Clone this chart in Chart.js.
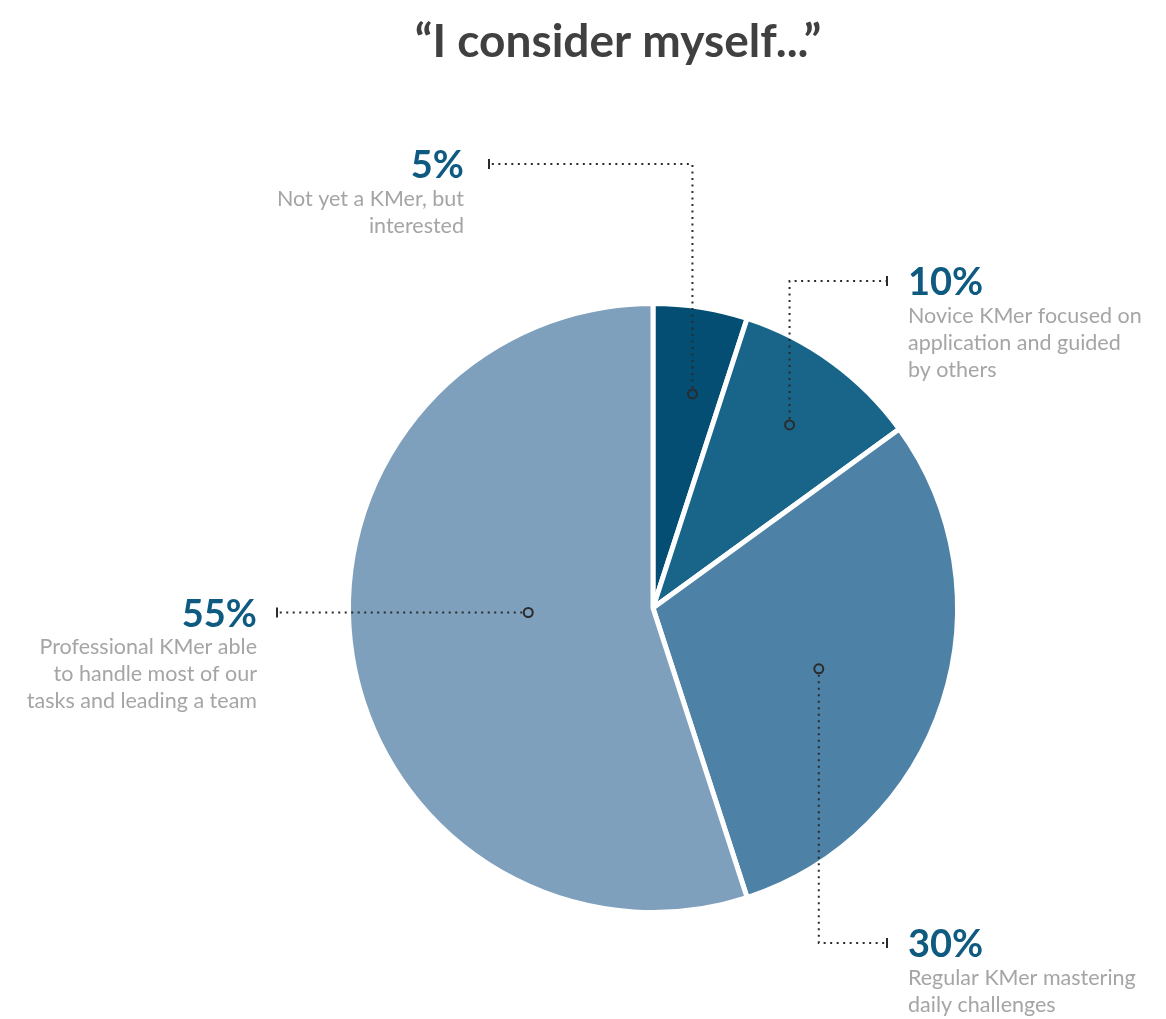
<!DOCTYPE html>
<html>
<head>
<meta charset="utf-8">
<script src="https://cdn.jsdelivr.net/npm/chart.js@4.4.1/dist/chart.umd.min.js"></script>
<style>
  html, body { margin: 0; padding: 0; background: #ffffff; }
  #wrap { width: 1166px; height: 1019px; position: relative; }
</style>
</head>
<body>
<div id="wrap"><canvas id="pie"></canvas></div>
<script>
// survey answers, clockwise from 12 o'clock
const chartTitle = "\u201CI consider myself...\u201D";
const shares = [5, 10, 30, 55];
const descriptions = [
  ["Not yet a KMer, but", "interested"],
  ["Novice KMer focused on", "application and guided", "by others"],
  ["Regular KMer mastering", "daily challenges"],
  ["Professional KMer able", "to handle most of our", "tasks and leading a team"]
];
const sliceColors = ["#034e72", "#186589", "#4d81a5", "#7fa0bd"];

// callout layout: where the marker sits inside the slice, where the leader bends/ends
const callouts = [
  { t: 0.58, rf: 0.715, elbowY: 164, endX: 489, side: "left", gap: 25 },
  { t: 0.52, rf: 0.75, elbowY: 281, endX: 887, side: "right", gap: 21 },
  { t: 0.52, rf: 0.58, elbowY: 943, endX: 887, side: "right", gap: 21 },
  { t: 0.535, rf: 0.41, elbowY: null, endX: 277, side: "left", gap: 20 }
];

const FONT = "Lato, 'Open Sans', sans-serif";

const titlePlugin = {
  id: "bigTitle",
  afterDraw(chart) {
    const ctx = chart.ctx;
    ctx.save();
    ctx.font = "bold 46px " + FONT;
    ctx.fillStyle = "#404040";
    ctx.textAlign = "center";
    ctx.textBaseline = "middle";
    ctx.fillText(chartTitle, 618, 42);
    ctx.restore();
  }
};

const calloutPlugin = {
  id: "callouts",
  afterDatasetsDraw(chart) {
    const ctx = chart.ctx;
    const arcs = chart.getDatasetMeta(0).data;
    ctx.save();
    arcs.forEach((arc, i) => {
      const c = callouts[i];
      const a = arc.startAngle + (arc.endAngle - arc.startAngle) * c.t;
      const r = arc.outerRadius * c.rf;
      const px = arc.x + Math.cos(a) * r;
      const py = arc.y + Math.sin(a) * r;
      const lineY = c.elbowY === null ? py : c.elbowY;

      // dotted leader
      ctx.strokeStyle = "#2b2b2b";
      ctx.lineWidth = 2;
      ctx.setLineDash([2, 4.5]);
      ctx.beginPath();
      if (c.elbowY !== null) {
        ctx.moveTo(px, py + (lineY < py ? -6 : 6));
        ctx.lineTo(px, lineY);
        ctx.lineTo(c.endX, lineY);
      } else {
        ctx.moveTo(px + (c.endX < px ? -6 : 6), py);
        ctx.lineTo(c.endX, lineY);
      }
      ctx.stroke();
      ctx.setLineDash([]);

      // end tick
      ctx.beginPath();
      ctx.moveTo(c.endX, lineY - 5);
      ctx.lineTo(c.endX, lineY + 5);
      ctx.stroke();

      // hollow marker
      ctx.beginPath();
      ctx.arc(px, py, 4.5, 0, Math.PI * 2);
      ctx.stroke();

      // text block
      const tx = c.side === "left" ? c.endX - c.gap : c.endX + c.gap;
      ctx.textAlign = c.side === "left" ? "right" : "left";
      ctx.textBaseline = "middle";
      ctx.font = "bold 38px " + FONT;
      ctx.fillStyle = "#0e5a80";
      ctx.fillText(shares[i] + "%", tx, lineY + 2);
      ctx.font = "21.5px " + FONT;
      ctx.fillStyle = "#a5a5a5";
      descriptions[i].forEach((line, k) => {
        ctx.fillText(line, tx, lineY + 35 + k * 27);
      });
    });
    ctx.restore();
  }
};

new Chart(document.getElementById("pie"), {
  type: "pie",
  data: {
    labels: descriptions.map((d) => d.join(" ")),
    datasets: [
      {
        data: shares,
        backgroundColor: sliceColors,
        borderColor: "#ffffff",
        borderWidth: 5,
      },
    ],
  },
  options: {
    responsive: true,
    maintainAspectRatio: false,
    animation: false,
    layout: {
      padding: { left: 346, right: 206, top: 301, bottom: 104 },
    },
    plugins: {
      legend: { display: false },
      tooltip: { enabled: false },
      title: { display: false },
    },
  },
  plugins: [calloutPlugin, titlePlugin],
});
</script>
</body>
</html>
